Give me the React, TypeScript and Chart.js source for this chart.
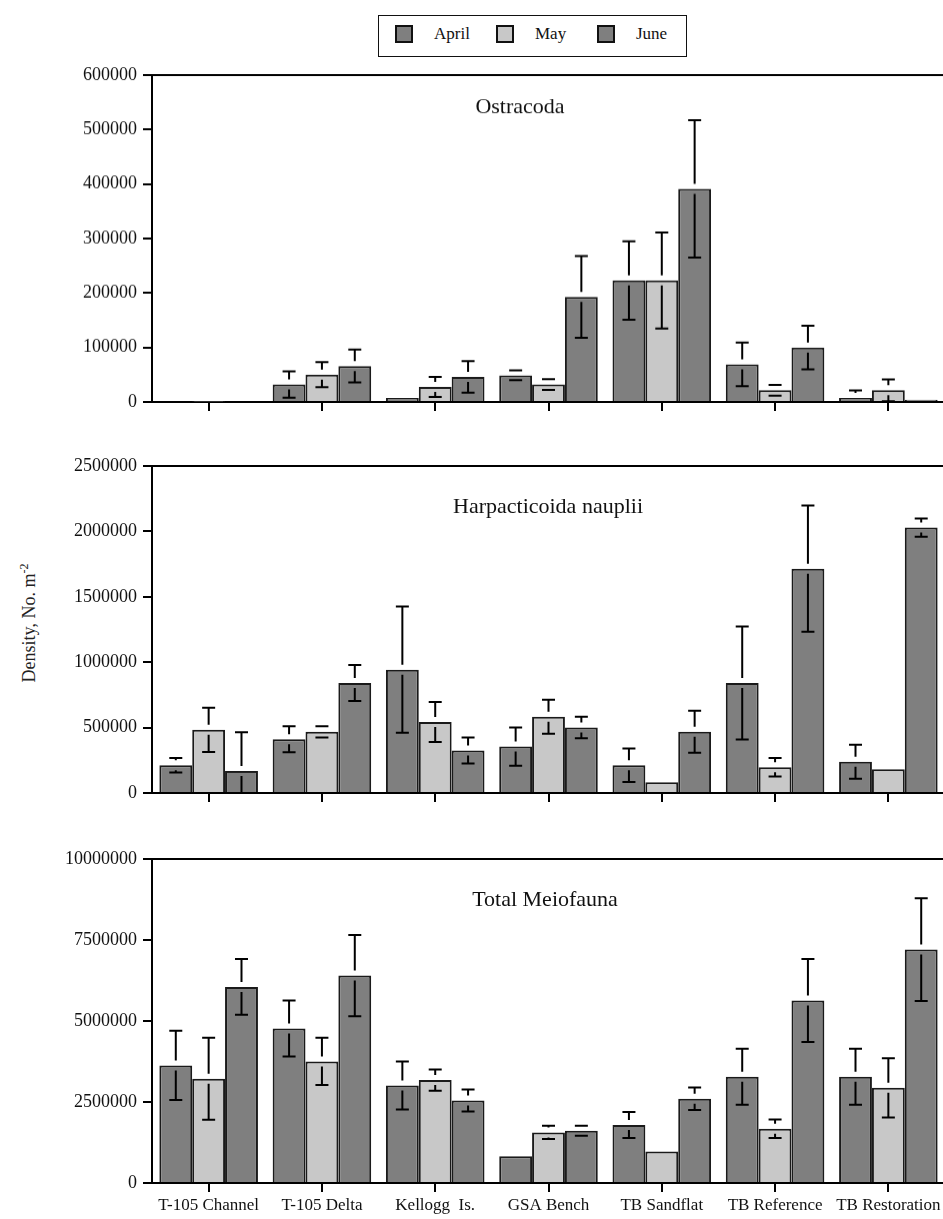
import React, { useEffect, useRef } from 'react';
import { Chart, registerables } from 'chart.js';

Chart.register(...registerables);

// ---------- data ----------
const sites = ['T-105 Channel', 'T-105 Delta', 'Kellogg  Is.', 'GSA Bench', 'TB Sandflat', 'TB Reference', 'TB Restoration'];
const months = ['April', 'May', 'June'];

const ostracodaApril = [1500, 32000, 7300, 49000, 223000, 69000, 7300];
const ostracodaAprilSE = [0, 24000, 0, 9000, 72000, 40000, 14000];
const ostracodaMay = [500, 50000, 27500, 32000, 223000, 21500, 21500];
const ostracodaMaySE = [0, 23000, 18500, 9700, 88000, 10000, 20000];
const ostracodaJune = [1500, 66000, 46000, 193000, 391000, 100000, 4000];
const ostracodaJuneSE = [0, 30000, 29000, 75000, 126000, 40000, 0];

const harpApril = [212000, 411000, 943000, 355000, 212000, 841000, 238000];
const harpAprilSE = [56000, 100000, 483000, 146000, 128000, 432000, 130000];
const harpMay = [483000, 468000, 542000, 583000, 82000, 197000, 181000];
const harpMaySE = [169000, 43000, 153000, 130000, 0, 71000, 0];
const harpJune = [169000, 841000, 325000, 501000, 468000, 1715000, 2029000];
const harpJuneSE = [296000, 138000, 100000, 82000, 161000, 483000, 69000];

const totalApril = [3628000, 4769000, 3011000, 822000, 1788000, 3278000, 3278000];
const totalAprilSE = [1069000, 863000, 740000, 0, 400000, 864000, 864000];
const totalMay = [3217000, 3751000, 3176000, 1562000, 976000, 1675000, 2939000];
const totalMaySE = [1264000, 730000, 329000, 206000, 0, 288000, 915000];
const totalJune = [6053000, 6403000, 2549000, 1613000, 2600000, 5632000, 7204000];
const totalJuneSE = [863000, 1253000, 339000, 154000, 350000, 1284000, 1583000];

const DARK = '#7f7f7f';
const LIGHT = '#c8c8c8';
const EDGE = '#1a1a1a';
const FONT = '"Liberation Serif", "Times New Roman", serif';

const panelDeco = {
  id: 'panelDeco',
  afterDatasetsDraw(chart: any, _args: any, opts: any) {
    const { ctx, chartArea } = chart;
    const ys = chart.scales.y;
    ctx.save();
    ctx.strokeStyle = '#000';
    ctx.lineWidth = 2;
    chart.data.datasets.forEach((ds: any, di: number) => {
      const meta = chart.getDatasetMeta(di);
      const errs = ds.errors || [];
      meta.data.forEach((bar: any, i: number) => {
        const v = ds.data[i];
        const e = errs[i];
        if (!e) return;
        const x = bar.x;
        const yTop = ys.getPixelForValue(v);
        const yHi = ys.getPixelForValue(v + e);
        const lo = v - e;
        const yLo = ys.getPixelForValue(Math.max(lo, 0));
        const gap = 5;
        const cap = 6.5;
        ctx.beginPath();
        if (yTop - gap > yHi) {
          ctx.moveTo(x, yHi);
          ctx.lineTo(x, yTop - gap);
        }
        if (yLo > yTop + gap) {
          ctx.moveTo(x, yTop + gap);
          ctx.lineTo(x, yLo);
        }
        ctx.moveTo(x - cap, yHi);
        ctx.lineTo(x + cap, yHi);
        if (lo > 0) {
          ctx.moveTo(x - cap, yLo);
          ctx.lineTo(x + cap, yLo);
        }
        ctx.stroke();
      });
    });
    ctx.beginPath();
    ctx.moveTo(chartArea.left - 1, chartArea.top);
    ctx.lineTo(chartArea.right + 10, chartArea.top);
    ctx.stroke();
    ctx.fillStyle = '#111';
    ctx.font = '22px ' + FONT;
    ctx.textAlign = 'center';
    ctx.textBaseline = 'middle';
    ctx.fillText(opts.text, opts.x, chartArea.top + opts.dy);
    ctx.restore();
  },
};

type PanelProps = {
  title: string;
  titleX: number;
  titleDY: number;
  values: number[][];
  errors: number[][];
  max: number;
  step: number;
  top: number;
  bottom: number;
  showLabels: boolean;
};

function Panel(p: PanelProps) {
  const ref = useRef<HTMLCanvasElement | null>(null);
  const padTop = 18;
  const xH = p.showLabels ? 40 : 18;
  const height = padTop + (p.bottom - p.top) + xH;
  const width = 955;

  useEffect(() => {
    if (!ref.current) return;
    const colors = [DARK, LIGHT, DARK];
    const chart = new Chart(ref.current, {
      type: 'bar',
      data: {
        labels: sites,
        datasets: months.map((m, i) => ({
          label: m,
          data: p.values[i],
          errors: p.errors[i],
          backgroundColor: colors[i],
          borderColor: EDGE,
          borderWidth: 2,
          categoryPercentage: 0.87,
          barPercentage: 1.0,
        })) as any,
      },
      options: {
        responsive: false,
        animation: false,
        devicePixelRatio: 1,
        layout: { padding: { top: padTop, right: 10, left: 0, bottom: 0 } },
        plugins: {
          legend: { display: false },
          tooltip: { enabled: false },
          panelDeco: { text: p.title, x: p.titleX, dy: p.titleDY },
        } as any,
        scales: {
          x: {
            type: 'category',
            offset: true,
            grid: { offset: false, drawOnChartArea: false, drawTicks: true, tickLength: 9, color: '#000', lineWidth: 2 },
            border: { display: true, color: '#000', width: 2 },
            ticks: {
              display: p.showLabels,
              autoSkip: false,
              maxRotation: 0,
              padding: 3,
              color: '#111',
              font: { family: FONT, size: 17 },
            },
            afterFit: (s: any) => {
              s.height = xH;
            },
          },
          y: {
            min: 0,
            max: p.max,
            grid: { drawOnChartArea: false, drawTicks: true, tickLength: 9, color: '#000', lineWidth: 2 },
            border: { display: true, color: '#000', width: 2 },
            ticks: {
              stepSize: p.step,
              padding: 6,
              color: '#111',
              font: { family: FONT, size: 18 },
              callback: (v: any) => String(v),
            },
            afterFit: (s: any) => {
              s.width = 152;
            },
          },
        },
      },
      plugins: [panelDeco],
    });
    return () => chart.destroy();
  }, []);

  return (
    <canvas
      ref={ref}
      width={width}
      height={height}
      style={{ position: 'absolute', left: 0, top: p.top - padTop, width, height }}
    />
  );
}

function LegendBox() {
  const items = [
    { label: months[0], color: DARK, sq: 395, tx: 434 },
    { label: months[1], color: LIGHT, sq: 496, tx: 535 },
    { label: months[2], color: DARK, sq: 597, tx: 636 },
  ];
  return (
    <div>
      <div
        style={{
          position: 'absolute',
          left: 378,
          top: 15,
          width: 309,
          height: 42,
          border: '1.5px solid #111',
          boxSizing: 'border-box',
        }}
      />
      {items.map((it) => (
        <React.Fragment key={it.label}>
          <div
            style={{
              position: 'absolute',
              left: it.sq,
              top: 25,
              width: 18,
              height: 18,
              background: it.color,
              border: '2px solid #111',
              boxSizing: 'border-box',
            }}
          />
          <div
            style={{
              position: 'absolute',
              left: it.tx,
              top: 24,
              fontFamily: FONT,
              fontSize: 17,
              lineHeight: '20px',
              color: '#111',
              whiteSpace: 'nowrap',
            }}
          >
            {it.label}
          </div>
        </React.Fragment>
      ))}
    </div>
  );
}

export default function App() {
  return (
    <div
      style={{
        position: 'fixed',
        left: 0,
        top: 0,
        width: 943,
        height: 1219,
        overflow: 'hidden',
        background: '#fff',
      }}
    >
      <LegendBox />
      <div
        style={{
          position: 'absolute',
          left: 28,
          top: 623,
          transform: 'translate(-50%, -50%) rotate(-90deg)',
          fontFamily: FONT,
          fontSize: 18,
          color: '#222',
          whiteSpace: 'nowrap',
        }}
      >
        Density, No. m<sup style={{ fontSize: 12 }}>-2</sup>
      </div>
      <Panel
        title="Ostracoda"
        titleX={520}
        titleDY={32}
        values={[ostracodaApril, ostracodaMay, ostracodaJune]}
        errors={[ostracodaAprilSE, ostracodaMaySE, ostracodaJuneSE]}
        max={600000}
        step={100000}
        top={75}
        bottom={401.5}
        showLabels={false}
      />
      <Panel
        title="Harpacticoida nauplii"
        titleX={548}
        titleDY={41}
        values={[harpApril, harpMay, harpJune]}
        errors={[harpAprilSE, harpMaySE, harpJuneSE]}
        max={2500000}
        step={500000}
        top={466}
        bottom={793}
        showLabels={false}
      />
      <Panel
        title="Total Meiofauna"
        titleX={545}
        titleDY={41}
        values={[totalApril, totalMay, totalJune]}
        errors={[totalAprilSE, totalMaySE, totalJuneSE]}
        max={10000000}
        step={2500000}
        top={859}
        bottom={1183}
        showLabels={true}
      />
    </div>
  );
}
